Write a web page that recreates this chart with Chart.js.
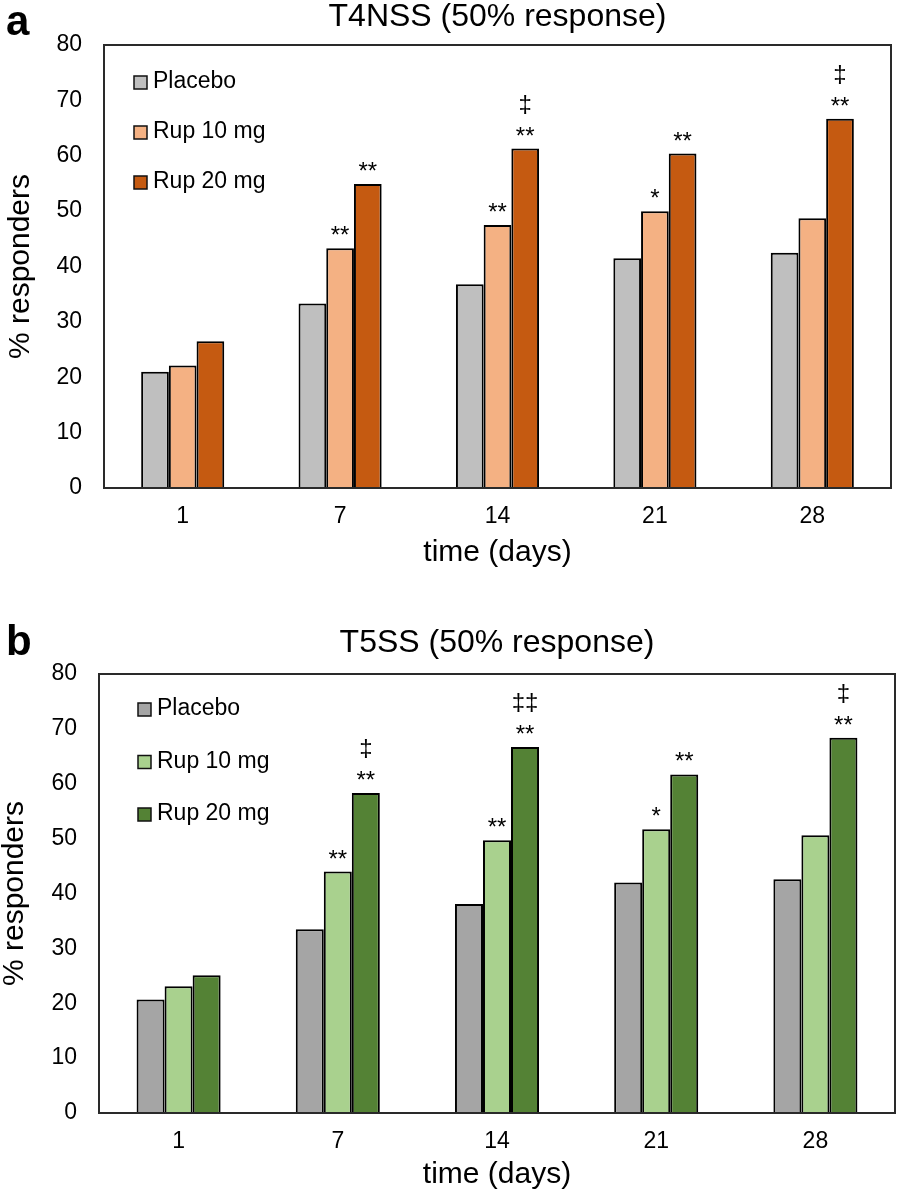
<!DOCTYPE html>
<html>
<head>
<meta charset="utf-8">
<script src="https://cdn.jsdelivr.net/npm/chart.js@4.4.0/dist/chart.umd.min.js"></script>
<style>
  body { margin: 0; background: #fff; }
  .panel { position: relative; width: 898px; }
  #pa { height: 595px; }
  #pb { height: 598px; }
</style>
</head>
<body>
<div class="panel" id="pa"><canvas id="chartA"></canvas></div>
<div class="panel" id="pb"><canvas id="chartB"></canvas></div>
<script>
const days = ['1', '7', '14', '21', '28'];
const seriesNames = ['Placebo', 'Rup 10 mg', 'Rup 20 mg'];

// panel a: T4NSS
const t4Placebo = [21.0, 33.3, 36.8, 41.5, 42.5];
const t4Rup10 = [22.1, 43.3, 47.5, 50.0, 48.7];
const t4Rup20 = [26.5, 54.9, 61.3, 60.4, 66.7];
// panel b: T5SS
const t5Placebo = [20.7, 33.5, 38.1, 42.0, 42.6];
const t5Rup10 = [23.1, 44.0, 49.7, 51.7, 50.6];
const t5Rup20 = [25.1, 58.3, 66.7, 61.7, 68.4];

// significance marks above bars
const t4Stars10 = ['', '**', '**', '*', ''];
const t4Stars20 = ['', '**', '**', '**', '**'];
const t4Dagger20 = ['', '', '‡', '', '‡'];
const t5Stars10 = ['', '**', '**', '*', ''];
const t5Stars20 = ['', '**', '**', '**', '**'];
const t5Dagger20 = ['', '‡', '‡‡', '', '‡'];

const FONT = "'Liberation Sans', Arial, sans-serif";

function makeDecor(o) {
  return {
    id: 'decor',
    afterDatasetsDraw(chart) {
      const { ctx, chartArea: a } = chart;
      ctx.save();
      // plot frame
      ctx.strokeStyle = '#2a2a2a';
      ctx.lineWidth = 2;
      ctx.strokeRect(a.left, a.top, a.right - a.left, a.bottom - a.top);

      // stars / daggers
      ctx.fillStyle = '#000';
      ctx.textAlign = 'center';
      ctx.textBaseline = 'alphabetic';
      ctx.font = '24px ' + FONT;
      o.marks.forEach(m => {
        const meta = chart.getDatasetMeta(m.ds);
        m.stars.forEach((s, i) => { if (s) ctx.fillText(s, meta.data[i].x, meta.data[i].y - 5); });
        (m.daggers || []).forEach((s, i) => { if (s) ctx.fillText(s, meta.data[i].x, meta.data[i].y - 37); });
      });

      // legend inside plot
      ctx.textAlign = 'left';
      ctx.font = '23px ' + FONT;
      chart.data.datasets.forEach((d, i) => {
        const base = a.top + o.legY + i * o.legDy;
        const sx = a.left + o.legX;
        ctx.fillStyle = d.backgroundColor;
        ctx.fillRect(sx, base - 12, 13, 13);
        ctx.strokeStyle = '#111';
        ctx.lineWidth = 1.5;
        ctx.strokeRect(sx, base - 12, 13, 13);
        ctx.fillStyle = '#000';
        ctx.fillText(d.label, sx + 19, base);
      });

      // title and panel letter
      ctx.textAlign = 'center';
      ctx.font = '32px ' + FONT;
      ctx.fillText(o.title, (a.left + a.right) / 2, o.titleY);
      ctx.textAlign = 'left';
      ctx.font = 'bold 42px ' + FONT;
      ctx.fillText(o.letter, 6, o.letterY);
      ctx.restore();
    }
  };
}

function buildChart(id, vals, colors, o) {
  return new Chart(document.getElementById(id), {
    type: 'bar',
    data: {
      labels: days,
      datasets: vals.map((v, i) => ({
        label: seriesNames[i],
        data: v,
        backgroundColor: colors[i],
        borderColor: '#000',
        borderWidth: 2,
        categoryPercentage: 0.528,
        barPercentage: 1
      }))
    },
    options: {
      responsive: true,
      maintainAspectRatio: false,
      animation: false,
      devicePixelRatio: 1,
      layout: { padding: { top: o.padTop, right: o.padRight, left: 0, bottom: 0 } },
      plugins: { legend: { display: false }, tooltip: { enabled: false } },
      scales: {
        x: {
          grid: { display: false, drawTicks: false },
          border: { display: false },
          ticks: { color: '#000', font: { size: 23, family: FONT }, padding: 15 },
          title: { display: true, text: 'time (days)', color: '#000', font: { size: 30, family: FONT, lineHeight: 1 }, padding: { top: 0, bottom: o.xTitlePad } },
          afterFit(s) { s.height = o.xHeight; }
        },
        y: {
          min: 0, max: 80,
          grid: { display: false, drawTicks: false },
          border: { display: false },
          ticks: { stepSize: 10, color: '#000', font: { size: 23, family: FONT }, padding: 22 },
          title: { display: true, text: '% responders', color: '#000', font: { size: 30, family: FONT, lineHeight: 1 }, padding: { top: o.yTitlePad, bottom: 0 } },
          afterFit(s) { s.width = o.yWidth; }
        }
      }
    },
    plugins: [makeDecor(o)]
  });
}

buildChart('chartA', [t4Placebo, t4Rup10, t4Rup20], ['#bfbfbf', '#f4b183', '#c55a11'], {
  padTop: 45, padRight: 7, xHeight: 107, yWidth: 104, xTitlePad: 27, yTitlePad: 6,
  title: 'T4NSS (50% response)', titleY: 26, letter: 'a', letterY: 35,
  legX: 30, legY: 43, legDy: 50,
  marks: [{ ds: 1, stars: t4Stars10 }, { ds: 2, stars: t4Stars20, daggers: t4Dagger20 }]
});

buildChart('chartB', [t5Placebo, t5Rup10, t5Rup20], ['#a5a5a5', '#a9d18e', '#548235'], {
  padTop: 79, padRight: 3, xHeight: 80, yWidth: 99, xTitlePad: 3, yTitlePad: 0,
  title: 'T5SS (50% response)', titleY: 57, letter: 'b', letterY: 60,
  legX: 39, legY: 41, legDy: 52.5,
  marks: [{ ds: 1, stars: t5Stars10 }, { ds: 2, stars: t5Stars20, daggers: t5Dagger20 }]
});
</script>
</body>
</html>
